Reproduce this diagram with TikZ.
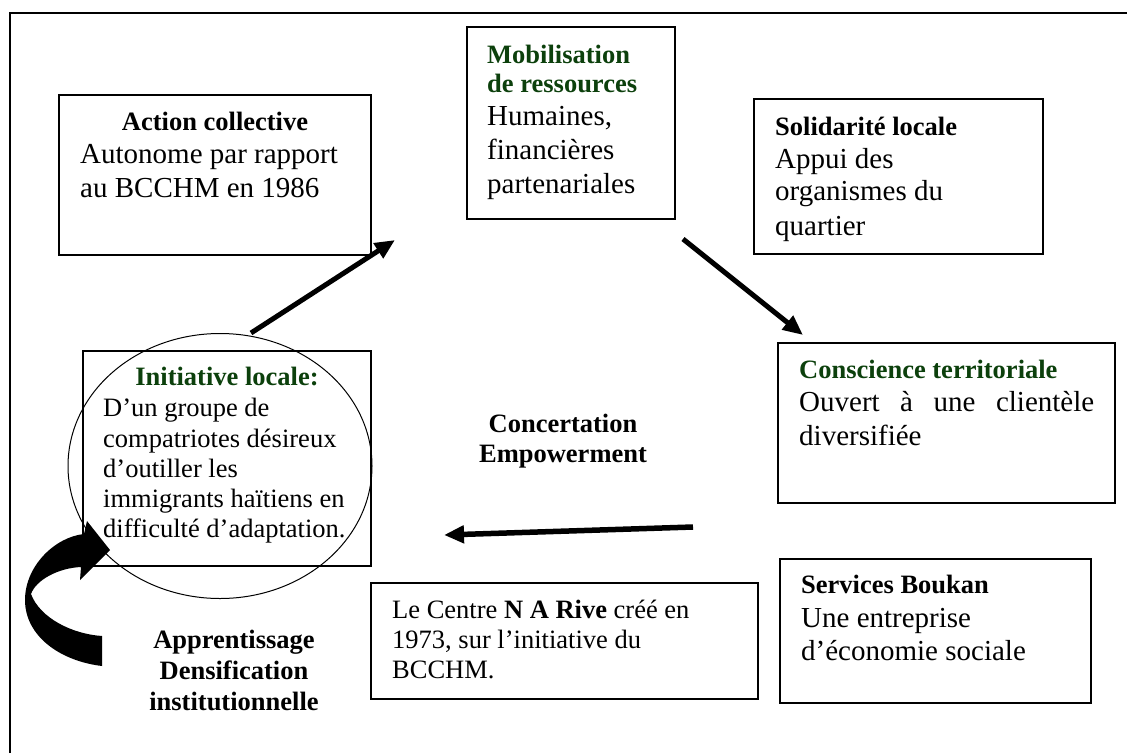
\documentclass[tikz,border=0pt]{standalone}
\usepackage{fontspec}
\setmainfont{Liberation Serif}
\usetikzlibrary{arrows.meta,shapes.geometric}
\definecolor{headgreen}{RGB}{12,64,12}
\newcommand{\bodyfont}{\fontsize{29}{33}\selectfont}
\newcommand{\smallbody}{\fontsize{26.5}{30}\selectfont}
\newcommand{\headfont}{\fontsize{26.5}{30}\selectfont\bfseries}

\begin{document}
\begin{tikzpicture}[x=1pt,y=-1pt,
  box/.style={draw, line width=1.4pt, rectangle, inner sep=0pt},
  txt/.style={inner sep=0pt, anchor=base west},
  ctxt/.style={inner sep=0pt, anchor=base},
  flow/.style={line width=5pt, -{Triangle[length=20pt,width=17pt]}},
]
\useasboundingbox (0,0) rectangle (1127,753);

% outer frame (only top and left sides fall inside the page)
\draw[line width=1.4pt] (10,753) -- (10,13) -- (1127,13);

% boxes
\node[box, minimum width=312pt, minimum height=160pt] (action) at (215,175) {};
\node[box, minimum width=208pt, minimum height=192pt] (mobil)  at (571,123) {};
\node[box, minimum width=289pt, minimum height=155pt] (solid)  at (898.5,176.5) {};
\node[box, minimum width=337pt, minimum height=160pt] (consc)  at (946.5,423) {};
\node[box, minimum width=288pt, minimum height=215pt] (init)   at (227,458.5) {};
\node[box, minimum width=387pt, minimum height=116pt] (centre) at (564.5,641) {};
\node[box, minimum width=311pt, minimum height=144pt] (boukan) at (935.5,631) {};

% ellipse around the local initiative
\node[draw, ellipse, line width=1pt, inner sep=0pt,
      minimum width=304pt, minimum height=265pt] (loop) at (220,466) {};

% Action collective
\node[ctxt] (actionH) at (215,130) {\headfont Action collective};
\node[txt] (actionA) at (80,163) {\bodyfont Autonome par rapport};
\node[txt] (actionB) at (80,197) {\bodyfont au BCCHM en 1986};

% Mobilisation de ressources
\node[txt, text=headgreen] (mobilH1) at (487,63) {\headfont Mobilisation};
\node[txt, text=headgreen] (mobilH2) at (487,92) {\headfont de ressources};
\node[txt] (mobilA) at (487,125) {\bodyfont Humaines,};
\node[txt] (mobilB) at (487,159) {\bodyfont financières};
\node[txt] (mobilC) at (487,193) {\bodyfont partenariales};

% Solidarite locale
\node[txt] (solidH) at (775,135) {\headfont Solidarité locale};
\node[txt] (solidA) at (775,168) {\bodyfont Appui des};
\node[txt] (solidB) at (775,200) {\bodyfont organismes du};
\node[txt] (solidC) at (775,235) {\bodyfont quartier};

% Conscience territoriale
\node[txt, text=headgreen] (conscH) at (799,378) {\headfont Conscience territoriale};
\node[txt] (conscA) at (799,411) {\bodyfont\makebox[295pt][s]{Ouvert à une clientèle}};
\node[txt] (conscB) at (799,445) {\bodyfont diversifiée};

% Initiative locale
\node[ctxt, text=headgreen] (initH) at (227,385) {\headfont Initiative locale:};
\node[txt] (initA) at (103,416) {\smallbody D’un groupe de};
\node[txt] (initB) at (103,447) {\smallbody compatriotes désireux};
\node[txt] (initC) at (103,477) {\smallbody d’outiller les};
\node[txt] (initD) at (103,507) {\smallbody immigrants haïtiens en};
\node[txt] (initE) at (103,537) {\smallbody difficulté d’adaptation.};

% Centre N A Rive
\node[txt] (centreA) at (392,618) {\smallbody Le Centre \textbf{N A Rive} créé en};
\node[txt] (centreB) at (392,648) {\smallbody 1973, sur l’initiative du};
\node[txt] (centreC) at (392,678) {\smallbody BCCHM.};

% Services Boukan
\node[txt] (boukanH) at (801,593) {\headfont Services Boukan};
\node[txt] (boukanA) at (801,627) {\bodyfont Une entreprise};
\node[txt] (boukanB) at (801,660) {\bodyfont d’économie sociale};

% free labels
\node[ctxt] (concert) at (563,432) {\headfont Concertation};
\node[ctxt] (empow)   at (563,462) {\headfont Empowerment};
\node[ctxt] (appr)    at (234,648) {\headfont Apprentissage};
\node[ctxt] (dens)    at (234,679) {\headfont Densification};
\node[ctxt] (inst)    at (234,710) {\headfont institutionnelle};

% straight flow arrows
\coordinate (a1s) at (251,333);
\coordinate (a1e) at (395,240);
\coordinate (a2s) at (683,239);
\coordinate (a2e) at (803,335);
\coordinate (a3s) at (693,527);
\coordinate (a3e) at (444,535);
\draw[flow] (a1s) -- (a1e);
\draw[flow] (a2s) -- (a2e);
\draw[flow, line width=5.5pt] (a3s) -- (a3e);

% curled feedback arrow
\fill[black] (102,666)
  .. controls (60,661) and (25,636) .. (25,600)
  .. controls (25,566) and (55,537) .. (84,534)
  -- (87,521) -- (110,550) -- (80,580) -- (81,567)
  .. controls (58,568) and (36,580) .. (31,594)
  .. controls (40,618) and (72,634) .. (102,636)
  -- cycle;
\end{tikzpicture}
\end{document}
